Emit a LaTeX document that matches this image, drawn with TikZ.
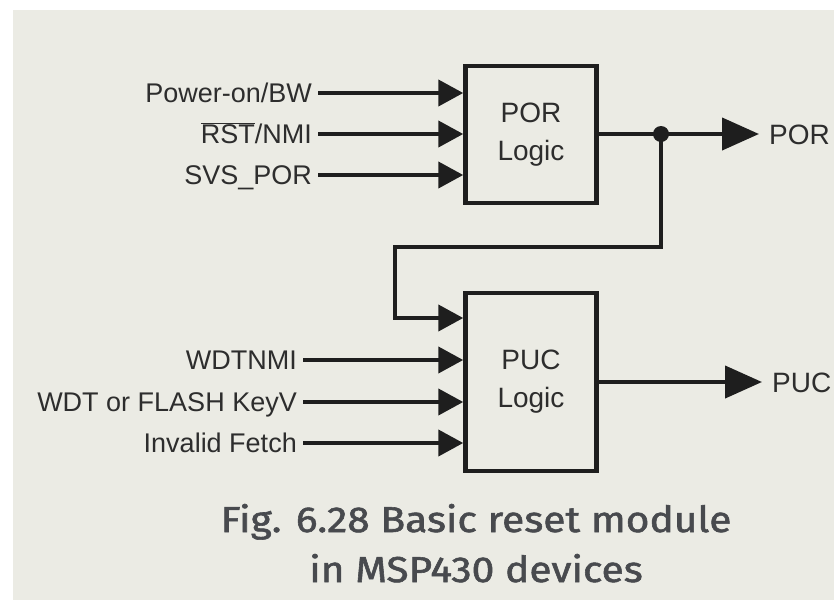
\documentclass[tikz,border=0pt]{standalone}
\usepackage{fontspec}
\setmainfont{Liberation Sans}
\newfontfamily\capfont[FakeStretch=1.13,FakeBold=1.6]{Fira Sans}
\usetikzlibrary{arrows.meta}
\definecolor{panel}{RGB}{235,235,228}
\definecolor{ink}{RGB}{30,30,30}
\definecolor{txt}{RGB}{45,45,45}
\definecolor{captxt}{RGB}{72,74,78}
\begin{document}
\begin{tikzpicture}[x=1pt,y=-1pt,
  lbl/.style={font=\fontsize{27}{30}\selectfont, text=txt, inner xsep=6pt, inner ysep=0pt, text height=19.3pt, text depth=0pt, anchor=east},
  box/.style={draw=ink, line width=4.5pt, minimum width=131pt, align=center, font=\fontsize{28}{38}\selectfont, text=txt, inner sep=0pt},
  inarr/.style={draw=ink, line width=4.2pt, -{Triangle[length=25pt,width=26pt]}},
  outarr/.style={draw=ink, line width=4.2pt, -{Triangle[length=37pt,width=32pt]}},
  wire/.style={draw=ink, line width=4.2pt},
  outlbl/.style={font=\fontsize{28}{30}\selectfont, text=txt, anchor=west, inner xsep=10pt, inner ysep=0pt, text height=20pt, text depth=0pt},
  captext/.style={font=\capfont\fontsize{36}{40}\selectfont, text=captxt, anchor=base, inner sep=0pt}]
\useasboundingbox (0,0) rectangle (834,600);
\fill[white] (0,0) rectangle (834,600);
\fill[panel] (13,10) rectangle (834,600);

% boxes
\node[box, minimum height=137pt] (por) at (531,134.5) {POR\\Logic};
\node[box, minimum height=178pt] (puc) at (531,382) {PUC\\Logic};

% POR inputs
\node[lbl] (l1) at (318,93) {Power-on/BW};
\node[lbl] (l2) at (318,134) {$\overline{\hbox{RST}}$/NMI};
\node[lbl] (l3) at (318,175) {SVS\_POR};
\draw[inarr] (l1.east) -- (l1.east -| por.west);
\draw[inarr] (l2.east) -- (l2.east -| por.west);
\draw[inarr] (l3.east) -- (l3.east -| por.west);

% PUC inputs
\node[lbl] (m1) at (303,360) {WDTNMI};
\node[lbl] (m2) at (303,402) {WDT or FLASH KeyV};
\node[lbl] (m3) at (303,443) {Invalid Fetch};
\draw[inarr] (m1.east) -- (m1.east -| puc.west);
\draw[inarr] (m2.east) -- (m2.east -| puc.west);
\draw[inarr] (m3.east) -- (m3.east -| puc.west);

% outputs
\node[outlbl] (porout) at (759,134) {POR};
\node[outlbl] (pucout) at (762,382) {PUC};
\draw[outarr] (por.east |- porout.west) -- (porout.west);
\draw[outarr] (puc.east) -- (pucout.west);

% feedback
\coordinate (j) at (661,134);
\coordinate (c1) at (661,247);
\coordinate (c2) at (395,247);
\coordinate (c3) at (395,318);
\draw[wire, line join=miter] (j) -- (c1) -- (c2) -- (c3) -- ++(10,0);
\draw[inarr] (c3) -- (c3 -| puc.west);
\fill[ink] (j) circle (8pt);

% caption
\node[captext] (cap1) at (476,532) {Fig. 6.28 Basic reset module};
\node[captext] (cap2) at (476,582) {in MSP430 devices};
\end{tikzpicture}
\end{document}
